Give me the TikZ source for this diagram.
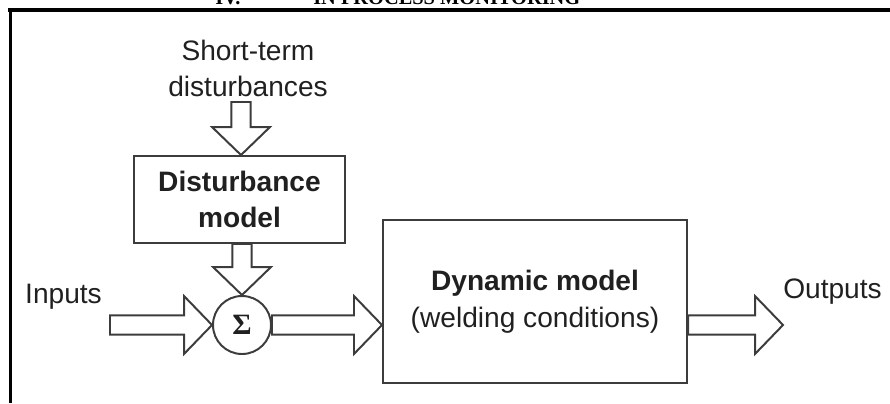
\documentclass[tikz,border=0pt]{standalone}
\usepackage{fontspec}
\setmainfont{Liberation Sans}
\newfontfamily\headfont{Liberation Serif}
\usetikzlibrary{calc}

\definecolor{linegray}{HTML}{3C3C3C}
\definecolor{textgray}{HTML}{202020}

% hollow block arrow from #1 to #2 (tip at #2)
\newcommand{\fatarrow}[2]{%
  \coordinate (fa-m) at ($(#2)!19.9pt!(#1)$);
  \draw[fat] ($(#1)!6.8pt!90:(#2)$) -- ($(fa-m)!6.8pt!-90:(#1)$) -- ($(fa-m)!20.6pt!-90:(#1)$) -- (#2)
    -- ($(fa-m)!20.6pt!90:(#1)$) -- ($(fa-m)!6.8pt!90:(#1)$) -- ($(#1)!6.8pt!-90:(#2)$) -- cycle;
}

\begin{document}
\begin{tikzpicture}[x=0.025cm, y=-0.025cm,
    font=\fontsize{20pt}{26pt}\selectfont,
    block/.style={draw=linegray, line width=1.4pt, inner sep=0pt, align=center, text=textgray},
    fat/.style={draw=linegray, line width=1.4pt, line join=miter},
    lbl/.style={text=textgray, inner sep=0pt, align=center},
    head/.style={anchor=base west, inner sep=0pt, font=\headfont\bfseries\fontsize{14.5pt}{17pt}\selectfont}]
    \useasboundingbox (0,0) rectangle (890,403);
    \clip (0,0) rectangle (890,403);

    % heading, cut off at the top
    \node[head] (headnum) at (215,4.5) {IV.};
    \node[head] (headtext) at (313,4.5) {IN PROCESS MONITORING};
    \draw[line width=2.8pt] (8,10) -- (890,10);
    \draw[line width=2.8pt] (10.5,8) -- (10.5,403);

    \node[lbl] (short) at (248,68.3) {Short-term\\disturbances};
    \node[lbl, anchor=base] (inputs) at (63.5,303) {Inputs};
    \node[lbl, anchor=base] (outputs) at (832.5,298) {Outputs};

    \node[block, minimum width=5.275cm, minimum height=2.175cm, font=\bfseries\fontsize{20pt}{25.6pt}\selectfont] (dist) at (239.5,199.5) {Disturbance\\model};
    \node[block, minimum width=7.6cm, minimum height=4.075cm] (dyn) at (535,301.5) {\textbf{Dynamic model}\\(welding conditions)};
    \node[draw=linegray, line width=1.4pt, circle, minimum size=1.45cm, inner sep=0pt, text=textgray,
        font=\headfont\bfseries\fontsize{21pt}{22pt}\selectfont] (sigma) at (242,325) {Σ};

    \coordinate (dist-in) at (241,102);
    \coordinate (dist-top) at (dist-in |- dist.north);
    \coordinate (dist-bot) at (sigma.north |- dist.south);
    \coordinate (in-start) at (110,325);
    \coordinate (dyn-in) at (dyn.west |- sigma);
    \coordinate (dyn-out) at (dyn.east |- sigma);
    \coordinate (out-end) at (783,325);

    \fatarrow{dist-in}{dist-top}
    \fatarrow{dist-bot}{sigma.north}
    \fatarrow{in-start}{sigma.west}
    \fatarrow{sigma.east}{dyn-in}
    \fatarrow{dyn-out}{out-end}
\end{tikzpicture}
\end{document}
